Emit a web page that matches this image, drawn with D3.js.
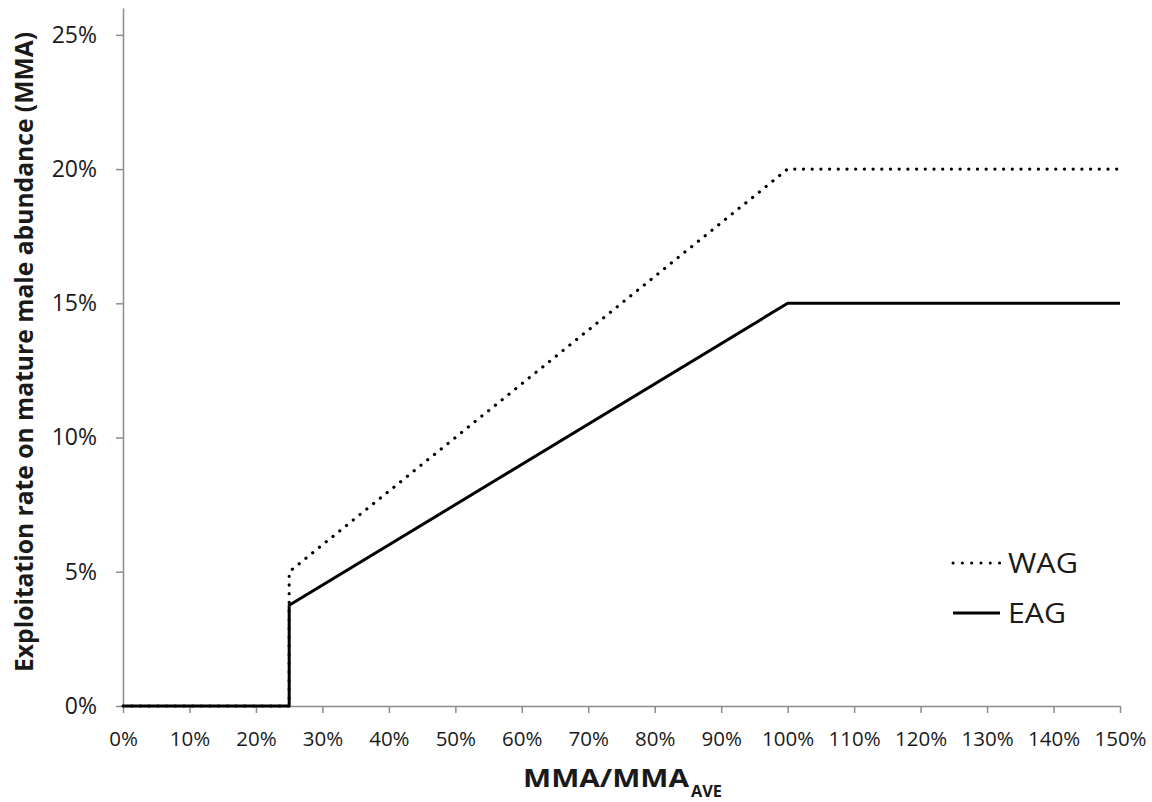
<!DOCTYPE html>
<html>
<head>
<meta charset="utf-8">
<script src="https://cdn.jsdelivr.net/npm/d3@7"></script>
<style>
  html, body { margin: 0; padding: 0; background: #fff; }
  svg { display: block; }
  text { font-family: "Open Sans", "Liberation Sans", sans-serif; fill: #1a1a1a; }
</style>
</head>
<body>
<svg id="chart" width="1152" height="802"></svg>
<script>
// Harvest control rule: exploitation rate vs. MMA relative to its average
const xTicks = [0, 0.1, 0.2, 0.3, 0.4, 0.5, 0.6, 0.7, 0.8, 0.9, 1.0, 1.1, 1.2, 1.3, 1.4, 1.5];
const yTicks = [0, 0.05, 0.10, 0.15, 0.20, 0.25];

// Breakpoints (MMA/MMA_AVE, exploitation rate)
const wagX = [0, 0.25, 0.25, 1.0, 1.5];
const wagY = [0, 0, 0.05, 0.20, 0.20];
const eagX = [0, 0.25, 0.25, 1.0, 1.5];
const eagY = [0, 0, 0.0375, 0.15, 0.15];

const series = [
  { name: "WAG", xs: wagX, ys: wagY, dotted: true, labelWidth: 70 },
  { name: "EAG", xs: eagX, ys: eagY, dotted: false, labelWidth: 58 }
];

const svg = d3.select("#chart");
const margin = { left: 123, right: 32, top: 8, bottom: 96 };
const W = 1152, H = 802;

const x = d3.scaleLinear().domain([0, 1.5]).range([margin.left, W - margin.right]);
const y = d3.scaleLinear().domain([0, 0.26]).range([H - margin.bottom, margin.top]);
const pct = d3.format(".0%");
const axisColor = "#8c8c8c";

// Y axis
const yAxis = svg.append("g")
  .attr("transform", `translate(${margin.left},0)`)
  .call(d3.axisLeft(y).tickValues(yTicks).tickFormat(pct).tickSize(7).tickSizeOuter(0).tickPadding(19));
yAxis.select(".domain").attr("stroke", axisColor).attr("stroke-width", 1.5);
yAxis.selectAll(".tick line").attr("stroke", axisColor).attr("stroke-width", 1.5);
yAxis.selectAll(".tick text").style("font-size", "23px").style("font-family", null).attr("fill", "#1a1a1a");

// X axis
const xAxis = svg.append("g")
  .attr("transform", `translate(0,${y(0)})`)
  .call(d3.axisBottom(x).tickValues(xTicks).tickFormat(pct).tickSize(7).tickSizeOuter(0).tickPadding(18));
xAxis.select(".domain").attr("stroke", axisColor).attr("stroke-width", 1.5);
xAxis.selectAll(".tick line").attr("stroke", axisColor).attr("stroke-width", 1.5);
xAxis.selectAll(".tick text").style("font-size", "20.5px").style("font-family", null).attr("fill", "#1a1a1a");

// Lines
const line = d3.line().x(d => x(d[0])).y(d => y(d[1]));
series.slice().reverse().forEach(s => {
  const pts = s.xs.map((v, i) => [v, s.ys[i]]);
  svg.append("path")
    .datum(pts)
    .attr("d", line)
    .attr("fill", "none")
    .attr("stroke", "#000")
    .attr("stroke-width", s.dotted ? 3.2 : 3)
    .attr("stroke-linecap", s.dotted ? "round" : "butt")
    .attr("stroke-linejoin", "round")
    .attr("stroke-dasharray", s.dotted ? "0.1 8.6" : null);
});

// Legend
const legend = svg.append("g").attr("transform", "translate(952,563)");
series.forEach((s, i) => {
  const g = legend.append("g").attr("transform", `translate(0,${i * 50})`);
  g.append("line")
    .attr("x1", 1).attr("x2", 48).attr("y1", 0).attr("y2", 0)
    .attr("stroke", "#000")
    .attr("stroke-width", 3)
    .attr("stroke-linecap", s.dotted ? "round" : "butt")
    .attr("stroke-dasharray", s.dotted ? "0.1 9.2" : null);
  g.append("text")
    .attr("x", 56).attr("y", 0).attr("dy", "0.36em")
    .attr("textLength", s.labelWidth)
    .attr("lengthAdjust", "spacingAndGlyphs")
    .style("font-size", "28px")
    .text(s.name);
});

// Axis titles
svg.append("text")
  .attr("transform", "translate(33,352) rotate(-90)")
  .attr("text-anchor", "middle")
  .attr("textLength", 640)
  .attr("lengthAdjust", "spacingAndGlyphs")
  .style("font-size", "25px")
  .style("font-weight", "bold")
  .text("Exploitation rate on mature male abundance (MMA)");

svg.append("text")
  .attr("x", 523).attr("y", 787)
  .attr("textLength", 166)
  .attr("lengthAdjust", "spacingAndGlyphs")
  .style("font-size", "25px")
  .style("font-weight", "bold")
  .text("MMA/MMA");
svg.append("text")
  .attr("x", 691).attr("y", 797)
  .attr("textLength", 31)
  .attr("lengthAdjust", "spacingAndGlyphs")
  .style("font-size", "16px")
  .style("font-weight", "bold")
  .text("AVE");
</script>
</body>
</html>
